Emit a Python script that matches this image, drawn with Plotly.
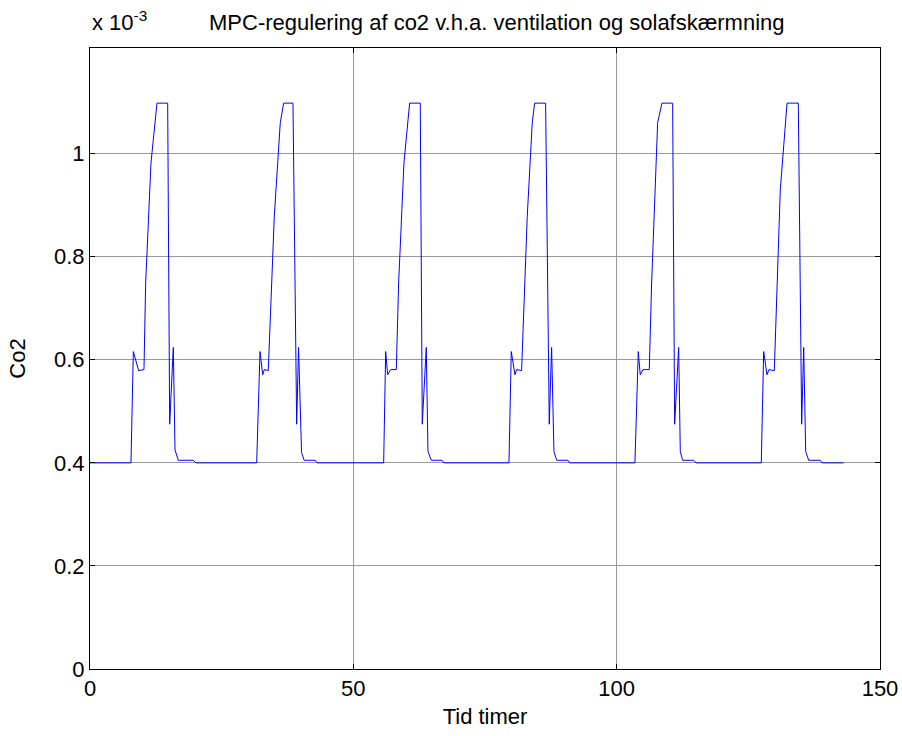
import plotly.graph_objects as go

# Time (hours) and CO2 (x 1e-3)
day1_t = [0, 7.78, 8.23, 9.24, 10.25, 10.57, 11.58, 12.72, 14.75, 15.13, 15.82, 16.14, 16.77, 19.6, 20.1]
day1_c = [0.400, 0.400, 0.616, 0.579, 0.581, 0.749, 0.982, 1.098, 1.098, 0.475, 0.624, 0.425, 0.405, 0.405, 0.400]

day2_t = [31.65, 32.28, 32.79, 33.10, 33.85, 34.99, 36.13, 36.77, 38.54, 39.24, 39.60, 40.17, 40.67, 42.78, 43.10]
day2_c = [0.400, 0.616, 0.571, 0.581, 0.579, 0.878, 1.060, 1.098, 1.098, 0.475, 0.624, 0.420, 0.405, 0.405, 0.400]

day3_t = [55.76, 56.14, 56.52, 57.09, 58.16, 58.60, 59.61, 60.69, 62.71, 63.09, 63.85, 64.17, 64.80, 66.83, 67.20]
day3_c = [0.400, 0.616, 0.571, 0.581, 0.581, 0.749, 0.982, 1.098, 1.098, 0.475, 0.624, 0.422, 0.405, 0.405, 0.400]

day4_t = [79.55, 79.99, 80.69, 81.00, 81.95, 83.02, 83.97, 84.42, 86.51, 87.20, 87.65, 88.09, 88.60, 90.75, 91.07]
day4_c = [0.400, 0.616, 0.571, 0.581, 0.579, 0.878, 1.060, 1.098, 1.098, 0.475, 0.624, 0.422, 0.405, 0.405, 0.400]

day5_t = [103.47, 104.10, 104.48, 104.99, 106.19, 106.64, 107.78, 108.60, 110.63, 111.01, 111.77, 112.08, 112.53, 114.62, 115.06]
day5_c = [0.400, 0.616, 0.571, 0.581, 0.581, 0.749, 1.060, 1.098, 1.098, 0.475, 0.624, 0.422, 0.405, 0.405, 0.400]

day6_t = [127.46, 127.91, 128.54, 128.92, 129.93, 131.07, 132.35, 134.49, 135.13, 135.51, 135.89, 136.46, 138.66, 138.98, 143.1]
day6_c = [0.400, 0.616, 0.571, 0.581, 0.579, 0.930, 1.098, 1.098, 0.475, 0.624, 0.422, 0.405, 0.405, 0.400, 0.400]

x_ticks = [0, 50, 100, 150]
y_ticks = [0, 0.2, 0.4, 0.6, 0.8, 1.0]
y_tick_labels = ["0", "0.2", "0.4", "0.6", "0.8", "1"]

t = day1_t + day2_t + day3_t + day4_t + day5_t + day6_t
c = day1_c + day2_c + day3_c + day4_c + day5_c + day6_c

FONT = "Liberation Sans, Arial, sans-serif"
FS = 22

fig = go.Figure()
fig.add_trace(go.Scatter(x=t, y=c, mode="lines",
                         line=dict(color="#0000ff", width=1), showlegend=False))

axis_common = dict(showline=True, linecolor="black", linewidth=1, mirror="ticks",
                   ticks="inside", ticklen=5, tickcolor="black",
                   showgrid=True, gridcolor="#999999", gridwidth=1,
                   zeroline=False, automargin=False,
                   tickfont=dict(family=FONT, size=FS, color="black"))

fig.update_layout(
    width=902, height=736,
    margin=dict(l=90, r=22, t=48, b=67),
    paper_bgcolor="white", plot_bgcolor="white",
    font=dict(family=FONT, size=FS, color="black"),
    xaxis=dict(range=[0, 150], tickvals=x_ticks, title=dict(text="Tid timer", standoff=8,
               font=dict(family=FONT, size=FS)), **axis_common),
    yaxis=dict(range=[0, 1.205], tickvals=y_ticks, ticktext=y_tick_labels,
               title=dict(text="Co2", standoff=22, font=dict(family=FONT, size=FS)), **axis_common),
    annotations=[
        dict(text="MPC-regulering af co2 v.h.a. ventilation og solafskærmning",
             xref="paper", yref="paper", x=0.5146, y=1.0, yshift=11, yanchor="bottom",
             xanchor="center", showarrow=False, font=dict(family=FONT, size=FS)),
        dict(text="x 10<sup>-3</sup>", xref="paper", yref="paper", x=0.0, y=1.0, yshift=11,
             yanchor="bottom", xanchor="left", showarrow=False,
             font=dict(family=FONT, size=FS)),
    ],
)

fig.write_html("out.html")
